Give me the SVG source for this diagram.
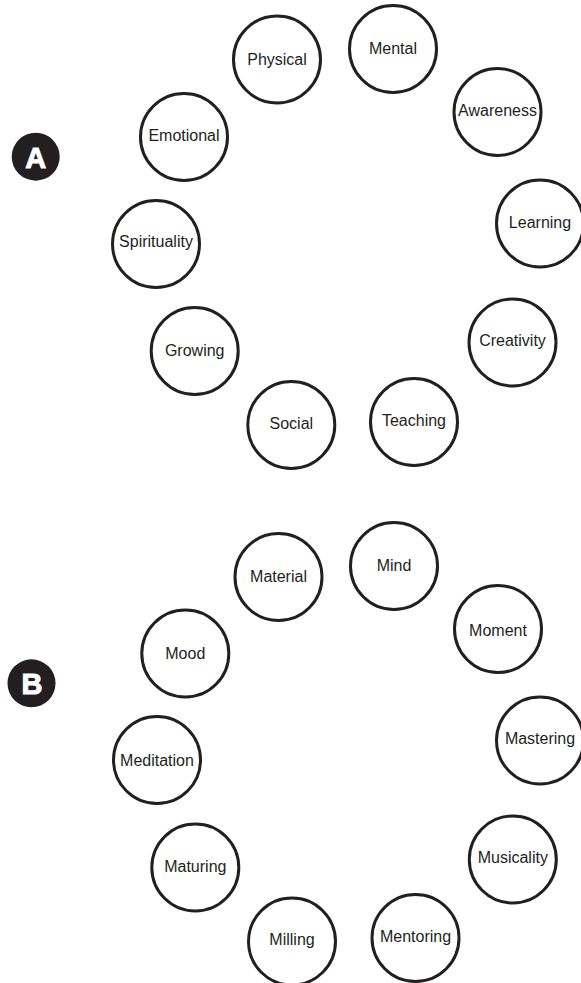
<svg xmlns="http://www.w3.org/2000/svg" width="581" height="983" viewBox="0 0 581 983">
<style>
  .node circle { fill: #ffffff; stroke: #231f20; stroke-width: 3; }
  .node text { font-family: "Liberation Sans", Arial, sans-serif; font-size: 16px; fill: #231f20; text-anchor: middle; }
  .badge circle { fill: #231f20; stroke: none; }
  .badge text { font-family: "Liberation Sans", Arial, sans-serif; font-weight: 900; font-size: 29px; fill: #ffffff; stroke: #ffffff; stroke-width: 1; text-anchor: middle; }
</style>
<rect width="581" height="983" fill="#ffffff"/>
<g id="connectors"/>
<g id="badge-A" class="badge"><circle cx="35.7" cy="156.7" r="24"/><text x="35.7" y="167.5">A</text></g>
<g id="badge-B" class="badge"><circle cx="31.5" cy="683.3" r="24"/><text x="32" y="694">B</text></g>

<g id="physical" class="node"><circle cx="277" cy="59.5" r="43.5"/><text x="277" y="64.5">Physical</text></g>
<g id="mental" class="node"><circle cx="393" cy="49" r="43.5"/><text x="393" y="53.5">Mental</text></g>
<g id="awareness" class="node"><circle cx="497.5" cy="112" r="43.5"/><text x="497.5" y="115.5">Awareness</text></g>
<g id="learning" class="node"><circle cx="540" cy="223.5" r="43.5"/><text x="540" y="227.5">Learning</text></g>
<g id="creativity" class="node"><circle cx="512.5" cy="342.5" r="43.5"/><text x="512.5" y="346">Creativity</text></g>
<g id="teaching" class="node"><circle cx="414" cy="422" r="43.5"/><text x="414" y="425.5">Teaching</text></g>
<g id="social" class="node"><circle cx="291.3" cy="425" r="43.5"/><text x="291.3" y="429">Social</text></g>
<g id="growing" class="node"><circle cx="194.7" cy="351" r="43.5"/><text x="194.7" y="356">Growing</text></g>
<g id="spirituality" class="node"><circle cx="156" cy="244" r="43.5"/><text x="156" y="246.5">Spirituality</text></g>
<g id="emotional" class="node"><circle cx="184" cy="137" r="43.5"/><text x="184" y="140.5">Emotional</text></g>

<g id="material" class="node"><circle cx="278.5" cy="577" r="43.5"/><text x="278.5" y="582">Material</text></g>
<g id="mind" class="node"><circle cx="394" cy="566" r="43.5"/><text x="394" y="570.5">Mind</text></g>
<g id="moment" class="node"><circle cx="498" cy="629" r="43.5"/><text x="498" y="636">Moment</text></g>
<g id="mastering" class="node"><circle cx="540" cy="740.5" r="43.5"/><text x="540" y="743.5">Mastering</text></g>
<g id="musicality" class="node"><circle cx="512.8" cy="859.5" r="43.5"/><text x="512.8" y="862.5">Musicality</text></g>
<g id="mentoring" class="node"><circle cx="415.5" cy="938" r="43.5"/><text x="415.5" y="942">Mentoring</text></g>
<g id="milling" class="node"><circle cx="292" cy="941.5" r="43.5"/><text x="292" y="944.5">Milling</text></g>
<g id="maturing" class="node"><circle cx="195.3" cy="867.5" r="43.5"/><text x="195.3" y="871.5">Maturing</text></g>
<g id="meditation" class="node"><circle cx="157" cy="760" r="43.5"/><text x="157" y="765.5">Meditation</text></g>
<g id="mood" class="node"><circle cx="185.3" cy="653.5" r="43.5"/><text x="185.3" y="658.5">Mood</text></g>
</svg>
